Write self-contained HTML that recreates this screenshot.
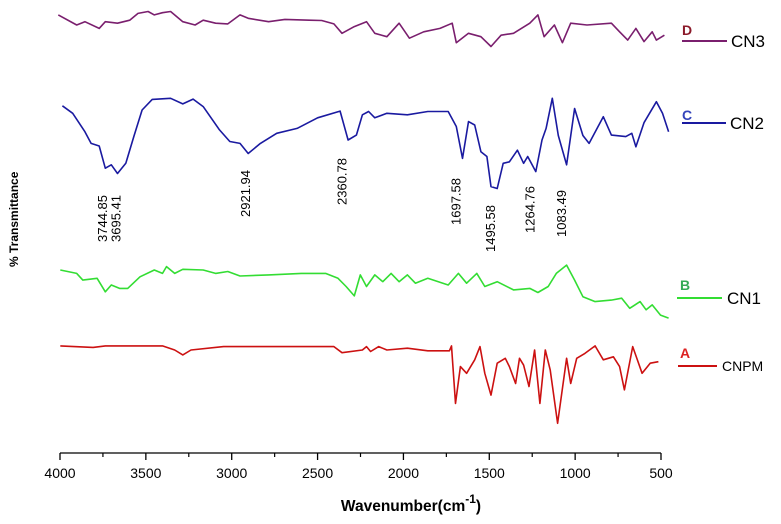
<!DOCTYPE html>
<html><head><meta charset="utf-8"><style>
body{margin:0;background:#fff;}
svg{display:block;font-family:"Liberation Sans",Arial,sans-serif;}
</style></head><body>
<svg id="chart" width="781" height="524" viewBox="0 0 781 524">
<g id="series"></g>
<g id="axis"></g>
<text x="411" y="511" text-anchor="middle" font-size="15.5" font-weight="bold">Wavenumber(cm<tspan dy="-8" font-size="12">-1</tspan><tspan dy="8">)</tspan></text>
<text transform="translate(18,267) rotate(-90)" font-size="12" font-weight="bold">% Transmittance</text>
<g id="annots"></g>
<g>
<text x="682" y="35" font-size="14" font-weight="bold" fill="#8b1a2a">D</text>
<line x1="682" y1="41" x2="727" y2="41" stroke="#7a1f6e" stroke-width="2"/>
<text x="731" y="47" font-size="17">CN3</text>
<text x="682" y="120" font-size="14" font-weight="bold" fill="#3344bb">C</text>
<line x1="682" y1="123" x2="726" y2="123" stroke="#1a1aa0" stroke-width="2"/>
<text x="730" y="129" font-size="17">CN2</text>
<text x="680" y="290" font-size="14" font-weight="bold" fill="#33aa55">B</text>
<line x1="677" y1="298" x2="722" y2="298" stroke="#33dd33" stroke-width="2"/>
<text x="727" y="304" font-size="17">CN1</text>
<text x="680" y="358" font-size="14" font-weight="bold" fill="#dd2222">A</text>
<line x1="678" y1="366" x2="717" y2="366" stroke="#cc1111" stroke-width="2"/>
<text x="722" y="371" font-size="14">CNPM</text>
</g>
</svg>
<script>
const xTicks=[4000,3500,3000,2500,2000,1500,1000,500];
const minorTicks=[3750,3250,2750,2250,1750,1250,750];
const seriesNames=['CN3','CN2','CN1','CNPM'];
const seriesColors=['#7a1f6e','#1a1aa0','#33dd33','#cc1111'];
const seriesOffsets=[11.7,11.7,0,0];
const cn3W=[4010,3903,3855,3772,3736,3665,3594,3546,3487,3451,3403,3356,3285,3213,3166,3094,3023,2952,2904,2785,2690,2548,2476,2405,2358,2286,2215,2167,2096,2025,1965,1882,1787,1716,1692,1621,1549,1490,1431,1359,1264,1217,1181,1121,1074,1026,931,789,741,694,646,599,551,527,480];
const cn3T=[98.2,95.5,96.4,94.6,96.4,96.0,96.8,98.6,99.1,98.2,98.8,99.1,96.4,95.5,96.8,96.0,95.8,98.2,97.3,96.4,97.0,96.8,96.7,95.8,93.3,95.1,96.4,93.3,92.4,96.0,92.0,93.7,94.6,96.0,90.8,93.3,92.4,89.8,92.8,93.3,96.0,98.2,92.4,95.5,90.8,96.0,95.5,96.0,93.7,91.5,94.6,91.1,93.7,91.5,92.8];
const cn2W=[3986,3926,3855,3819,3772,3736,3701,3665,3617,3570,3522,3463,3356,3285,3225,3166,3071,3011,2952,2904,2833,2738,2619,2500,2369,2322,2274,2239,2203,2167,2096,1977,1858,1739,1692,1656,1621,1585,1549,1514,1490,1454,1419,1383,1336,1300,1276,1229,1193,1169,1133,1098,1050,1003,955,919,836,789,705,670,646,599,527,491,456];
const cn2T=[74.0,72.0,67.1,64.0,63.3,57.4,58.3,56.0,58.7,65.8,72.9,75.7,76.0,74.5,75.8,73.8,67.6,64.5,64.0,61.3,64.0,66.7,68.0,70.8,72.6,64.9,66.2,71.6,72.5,70.8,72.0,71.6,72.5,72.5,68.5,60.0,69.8,68.9,61.8,60.5,52.5,52.0,58.7,59.1,62.2,58.7,60.5,56.5,64.9,68.0,76.0,66.1,58.3,73.3,66.1,64.0,71.1,66.2,65.8,66.7,63.1,69.5,75.1,72.0,67.1];
const cn1W=[3998,3903,3867,3784,3736,3701,3653,3606,3534,3451,3403,3380,3332,3285,3166,3094,3023,2952,2785,2595,2453,2381,2334,2286,2251,2215,2167,2120,2072,2025,1977,1930,1858,1739,1680,1632,1573,1526,1454,1359,1264,1217,1157,1110,1050,1003,955,884,789,729,682,622,587,551,503,456];
const cn1T=[42.0,41.1,39.3,39.8,36.2,38.0,37.1,37.1,40.2,42.0,41.1,42.9,41.1,42.2,42.0,41.1,41.6,40.4,40.7,41.1,41.1,39.8,37.6,35.1,40.7,37.6,40.7,38.9,41.1,38.9,40.7,38.5,39.8,38.0,41.1,38.5,41.1,37.6,38.9,36.7,37.1,36.0,37.6,41.1,43.3,39.3,34.9,33.6,34.0,34.5,31.8,33.6,31.4,32.7,30.0,29.2];
const cnpmW=[3998,3807,3736,3403,3332,3285,3237,3047,2405,2358,2239,2215,2191,2144,2096,1977,1858,1732,1720,1697,1668,1632,1585,1554,1526,1490,1454,1407,1383,1347,1324,1300,1269,1236,1205,1174,1145,1102,1050,1026,991,943,884,836,777,741,713,665,610,563,515];
const cnpmT=[21.8,21.4,21.8,21.8,20.7,19.4,20.7,21.6,21.6,20.0,20.7,21.6,20.3,21.6,20.7,21.2,20.5,20.5,21.8,6.5,16.3,14.5,18.1,21.6,14.5,8.7,17.2,18.5,16.3,11.8,18.5,16.7,11.0,20.7,6.5,20.7,15.4,1.2,18.5,11.8,18.5,19.8,21.8,18.1,18.9,16.3,10.1,21.6,14.5,17.2,17.6];
const peakLabels=['3744.85','3695.41','2921.94','2360.78','1697.58','1495.58','1264.76','1083.49'];
const peakW=[3744.85,3695.41,2921.94,2360.78,1697.58,1495.58,1264.76,1083.49];
const peakLabelBottom=[242,242,217,205,225,252,233,237];

const NS='http://www.w3.org/2000/svg';
function xS(w){return 60+(4000-w)/3500*601;}
function yS(v,off){return 427.8-3.757*(v+off);}
const allW=[cn3W,cn2W,cn1W,cnpmW], allT=[cn3T,cn2T,cn1T,cnpmT];
const sg=document.getElementById('series');
for(let s=0;s<4;s++){
  let d='';
  for(let i=0;i<allW[s].length;i++){d+=(i?'L':'M')+xS(allW[s][i]).toFixed(1)+','+yS(allT[s][i],seriesOffsets[s]).toFixed(1);}
  const p=document.createElementNS(NS,'path');
  p.setAttribute('d',d);p.setAttribute('fill','none');p.setAttribute('stroke',seriesColors[s]);
  p.setAttribute('stroke-width','1.6');p.setAttribute('stroke-linejoin','round');
  
  
  sg.appendChild(p);
}
const ax=document.getElementById('axis');
function mk(tag,attrs){const e=document.createElementNS(NS,tag);for(const k in attrs)e.setAttribute(k,attrs[k]);return e;}
const base=mk('line',{x1:60,y1:453,x2:661,y2:453,stroke:'#000','stroke-width':1.3});


ax.appendChild(base);
xTicks.forEach(t=>{
  const l=mk('line',{x1:xS(t),y1:453,x2:xS(t),y2:460,stroke:'#000','stroke-width':1.3});
  
  
  ax.appendChild(l);
  const tx=mk('text',{x:xS(t),y:478,'text-anchor':'middle','font-size':14});
  tx.textContent=t;
  
  
  ax.appendChild(tx);
});
minorTicks.forEach(t=>{
  const l=mk('line',{x1:xS(t),y1:453,x2:xS(t),y2:457,stroke:'#000','stroke-width':1.2});
  
  
  ax.appendChild(l);
});
const an=document.getElementById('annots');
peakW.forEach((w,i)=>{
  const x=xS(w)+(i===1?3:(i===0?-2:0))+5;
  const t=mk('text',{transform:'translate('+x.toFixed(1)+','+peakLabelBottom[i]+') rotate(-90)','font-size':13});
  t.textContent=peakLabels[i];
  
  
  an.appendChild(t);
});
</script>
</body></html>
